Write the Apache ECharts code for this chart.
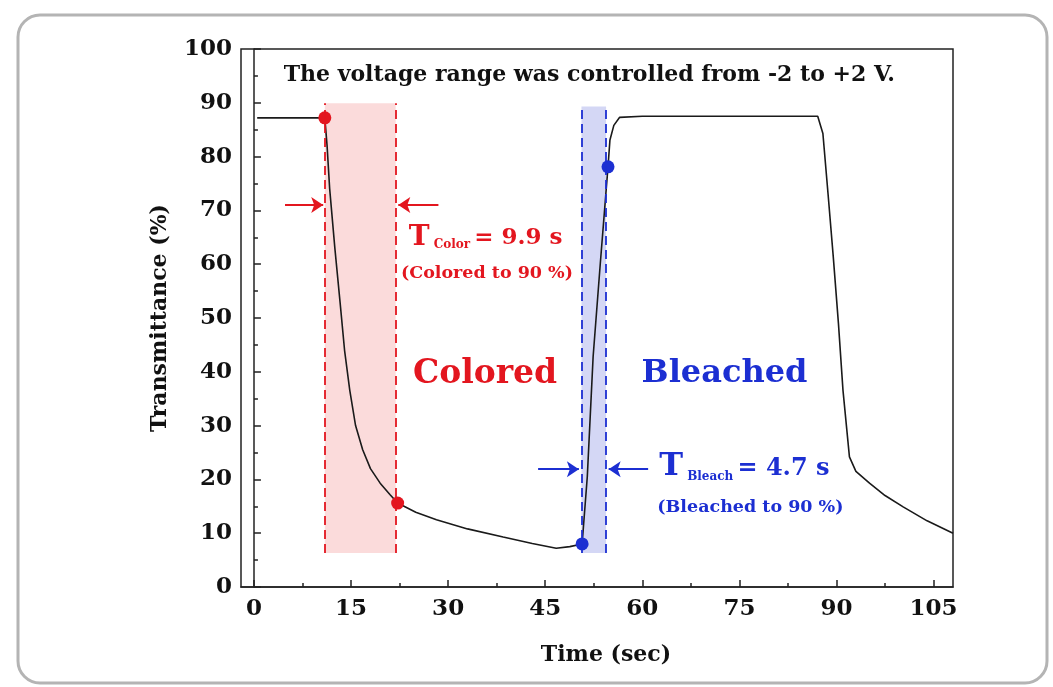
<!DOCTYPE html>
<html>
<head>
<meta charset="utf-8">
<title>Transmittance response</title>
<script src="https://cdn.jsdelivr.net/npm/echarts@6/dist/echarts.min.js"></script>
<style>
  html, body { margin: 0; padding: 0; background: #fff; }
  #main { width: 1053px; height: 687px; }
</style>
</head>
<body>
<div id="main"></div>
<script>
// measured curve: time (sec) / transmittance (%)
const timeSec = [0.5, 5, 10.95, 11.3, 11.7, 12.5, 13.3, 14.0, 14.8, 15.7, 16.8, 18.0, 19.5, 21.0, 22.2, 25.0, 28.2, 33.0, 38.5, 43.0, 46.7, 48.8, 50.7, 51.5, 52.4, 53.5, 54.7, 55.0, 55.6, 56.5, 60, 70, 80, 87.1, 87.9, 88.7, 89.5, 90.3, 91.0, 92.0, 93.0, 95.1, 97.5, 100.3, 104, 108];
const transmittance = [87.2, 87.2, 87.2, 82, 74, 63, 53, 44, 36.6, 30, 25.5, 22, 19.3, 17.2, 15.6, 13.9, 12.5, 10.8, 9.3, 8.1, 7.2, 7.5, 8.0, 20.5, 42.8, 60, 78.1, 83.1, 85.8, 87.3, 87.5, 87.5, 87.5, 87.5, 84.3, 73, 61.4, 49, 36.6, 24.2, 21.5, 19.3, 17.0, 14.9, 12.3, 10.0];
const xMajorTicks = [0, 15, 30, 45, 60, 75, 90, 105];
const xMinorTicks = [7.5, 22.5, 37.5, 52.5, 67.5, 82.5, 97.5];
const colorWindow = [10.95, 21.9];   // 90 % coloring window
const bleachWindow = [50.6, 54.4];   // 90 % bleaching window
const colorDots = [[10.95, 87.2], [22.2, 15.6]];
const bleachDots = [[50.7, 8.0], [54.7, 78.1]];

const RED = "#e3161f";
const BLUE = "#1c2fd2";
const FONT = "DejaVu Serif";

const chart = echarts.init(document.getElementById("main"));

function vLine(x, y0, y1, color) {
  return [
    { coord: [x, y0], lineStyle: { color, width: 1.8, type: [9, 5] } },
    { coord: [x, y1] },
  ];
}
function arrow(x0, x1, y, color) {
  return [
    { coord: [x0, y], lineStyle: { color, width: 2.2, type: "solid" }, itemStyle: { color } },
    { coord: [x1, y], itemStyle: { color } },
  ];
}

const axisText = { color: "#111", fontFamily: FONT, fontWeight: "bold", fontSize: 23 };

const option = {
  animation: false,
  backgroundColor: "#fff",
  graphic: [
    {
      type: "rect",
      shape: { x: 18, y: 15, width: 1029, height: 668, r: 22 },
      style: { fill: "none", stroke: "#b4b4b4", lineWidth: 3 },
      z: -1,
    },
  ],
  grid: {
    left: 241,
    right: 100,
    top: 49,
    bottom: 100,
    show: true,
    borderColor: "#222",
    borderWidth: 1.5,
  },
  xAxis: [
    {
      type: "value",
      min: -2,
      max: 108,
      name: "Time (sec)",
      nameLocation: "middle",
      nameGap: 57,
      nameTextStyle: { ...axisText, fontSize: 22, padding: [0, 0, 0, 18] },
      axisLine: { lineStyle: { color: "#222", width: 1.5 } },
      axisTick: { inside: true, length: 7, customValues: xMajorTicks, lineStyle: { color: "#222", width: 1.5 } },
      axisLabel: { ...axisText, margin: 11, customValues: xMajorTicks },
      splitLine: { show: false },
    },
    {
      type: "value",
      min: -2,
      max: 108,
      position: "bottom",
      offset: 0,
      axisLine: { show: false },
      axisTick: { inside: true, length: 4, customValues: xMinorTicks, lineStyle: { color: "#222", width: 1.5 } },
      axisLabel: { show: false },
      splitLine: { show: false },
    },
  ],
  yAxis: {
    type: "value",
    min: 0,
    max: 100,
    interval: 10,
    name: "Transmittance (%)",
    nameLocation: "middle",
    nameGap: 70,
    nameTextStyle: { ...axisText, fontSize: 22 },
    axisLine: { show: true, lineStyle: { color: "#222", width: 1.5 } },
    axisTick: { inside: true, length: 7, lineStyle: { color: "#222", width: 1.5 } },
    minorTick: { show: true, splitNumber: 2, length: 4, lineStyle: { color: "#222", width: 1.5 } },
    axisLabel: { ...axisText, margin: 9 },
    splitLine: { show: false },
  },
  series: [
    {
      name: "shading",
      type: "line",
      data: [],
      markArea: {
        silent: true,
        data: [
          [{ coord: [colorWindow[0], 6.3], itemStyle: { color: "rgba(246,175,175,0.45)" } }, { coord: [colorWindow[1], 89.9] }],
          [{ coord: [bleachWindow[0], 6.3], itemStyle: { color: "rgba(170,175,235,0.5)" } }, { coord: [bleachWindow[1], 89.3] }],
        ],
      },
      markLine: {
        silent: true,
        symbol: "none",
        label: { show: false },
        data: [
          vLine(colorWindow[0], 6.3, 89.9, RED),
          vLine(colorWindow[1], 6.3, 89.9, RED),
          vLine(bleachWindow[0], 6.3, 89.3, BLUE),
          vLine(bleachWindow[1], 6.3, 89.3, BLUE),
        ],
      },
    },
    {
      name: "arrows",
      type: "line",
      data: [],
      markLine: {
        silent: true,
        symbol: ["none", "arrow"],
        symbolSize: 12,
        label: { show: false },
        data: [
          arrow(4.8, 10.7, 71, RED),
          arrow(28.5, 22.3, 71, RED),
          arrow(43.9, 50.2, 21.9, BLUE),
          arrow(60.9, 54.8, 21.9, BLUE),
        ],
      },
    },
    {
      name: "Transmittance",
      type: "line",
      data: timeSec.map((t, i) => [t, transmittance[i]]),
      showSymbol: false,
      lineStyle: { color: "#1a1a1a", width: 1.6 },
      z: 3,
    },
    {
      name: "colorPoints",
      type: "scatter",
      data: colorDots,
      symbolSize: 13,
      itemStyle: { color: RED, opacity: 1 },
      z: 4,
    },
    {
      name: "bleachPoints",
      type: "scatter",
      data: bleachDots,
      symbolSize: 13,
      itemStyle: { color: BLUE, opacity: 1 },
      z: 4,
    },
    {
      name: "notes",
      type: "scatter",
      symbolSize: 0,
      z: 5,
      itemStyle: { opacity: 1 },
      label: { show: true, fontFamily: FONT, fontWeight: "bold" },
      data: [
        {
          value: [51.8, 95.2],
          label: { position: "inside", color: "#111", fontSize: 22, formatter: "The voltage range was controlled from -2 to +2 V." },
        },
        {
          value: [35.7, 39.6],
          label: { position: "inside", color: RED, fontSize: 33, formatter: "Colored" },
        },
        {
          value: [72.7, 39.6],
          label: { position: "inside", color: BLUE, fontSize: 32, formatter: "Bleached" },
        },
        {
          value: [23.9, 65],
          label: {
            position: "right",
            distance: 0,
            formatter: "{t|T}{s| Color }{v|= 9.9 s}",
            rich: {
              t: { fontSize: 28, fontFamily: FONT, fontWeight: "bold", color: RED, verticalAlign: "bottom" },
              s: { fontSize: 12, fontFamily: FONT, fontWeight: "bold", color: RED, verticalAlign: "bottom" },
              v: { fontSize: 23, fontFamily: FONT, fontWeight: "bold", color: RED, verticalAlign: "bottom", padding: [0, 0, 2, 0] },
            },
          },
        },
        {
          value: [36, 58.3],
          label: { position: "inside", color: RED, fontSize: 17.5, formatter: "(Colored to 90 %)" },
        },
        {
          value: [62.6, 22.3],
          label: {
            position: "right",
            distance: 0,
            formatter: "{t|T}{s| Bleach }{v|= 4.7 s}",
            rich: {
              t: { fontSize: 32, fontFamily: FONT, fontWeight: "bold", color: BLUE, verticalAlign: "bottom" },
              s: { fontSize: 12, fontFamily: FONT, fontWeight: "bold", color: BLUE, verticalAlign: "bottom" },
              v: { fontSize: 24, fontFamily: FONT, fontWeight: "bold", color: BLUE, verticalAlign: "bottom", padding: [0, 0, 2, 0] },
            },
          },
        },
        {
          value: [76.7, 14.8],
          label: { position: "inside", color: BLUE, fontSize: 17.5, formatter: "(Bleached to 90 %)" },
        },
      ],
    },
  ],
};

chart.setOption(option);
</script>
</body>
</html>
